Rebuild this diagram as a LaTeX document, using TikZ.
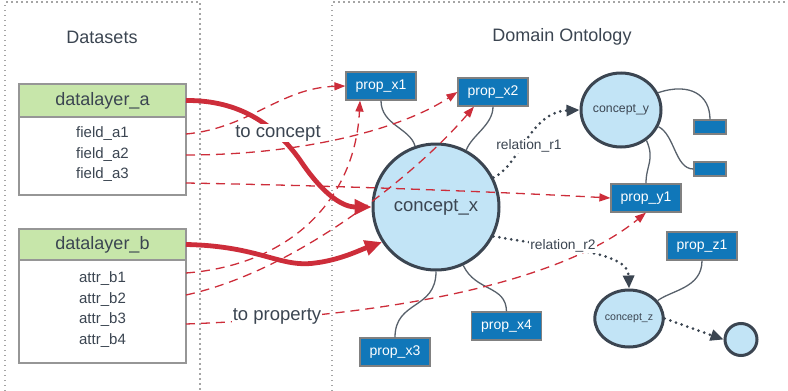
\documentclass[tikz,border=0pt]{standalone}
\usepackage{fontspec}
\setmainfont{Liberation Sans}
\usetikzlibrary{arrows.meta}
\usetikzlibrary{positioning}
\usetikzlibrary{shapes.geometric}
\usetikzlibrary{calc}
\definecolor{inkGray}{RGB}{59,69,81}
\definecolor{linkRed}{RGB}{205,45,58}
\definecolor{propBlue}{RGB}{16,119,185}
\definecolor{conceptBlue}{RGB}{194,228,246}
\definecolor{headGreen}{RGB}{199,230,170}
\definecolor{frameGray}{RGB}{165,165,165}
\definecolor{tableGray}{RGB}{150,150,150}

\begin{document}
\begin{tikzpicture}[x=1pt,y=-1pt,
        every node/.style = {text=inkGray},
        frameLine/.style = {draw=frameGray,line width=1.2pt,dash pattern=on 1.5pt off 3.5pt},
        headNode/.style = {draw=tableGray,line width=2.5pt,fill=headGreen,minimum width=167pt,inner sep=0pt,outer sep=0pt,font=\fontsize{18}{20}\selectfont},
        bodyNode/.style = {draw=tableGray,line width=2.5pt,fill=white,minimum width=167pt,inner sep=0pt,outer sep=0pt},
        fieldNode/.style = {inner sep=0pt,font=\fontsize{15}{18}\selectfont},
        propNode/.style = {draw=gray,line width=1.2pt,fill=propBlue,text=white,minimum width=70pt,minimum height=28pt,inner sep=0pt,font=\fontsize{14}{16}\selectfont},
        stubNode/.style = {draw=gray,line width=1.2pt,fill=propBlue,minimum width=32pt,minimum height=14pt,inner sep=0pt},
        conceptNode/.style = {shape=ellipse,draw=inkGray,line width=3pt,fill=conceptBlue,inner sep=0pt},
        toConcept/.style = {draw=linkRed,line width=4.8pt,-{Triangle[length=17pt,width=15pt]}}, % thick mapping arrows
        toProperty/.style = {draw=linkRed,line width=1.3pt,dash pattern=on 9pt off 6pt,-{Triangle[length=11pt,width=8pt]}},
        relationLink/.style = {draw=inkGray,line width=3pt,line cap=round,dash pattern=on 0pt off 6pt,-{Triangle[length=13pt,width=11pt]}},
        propLink/.style = {draw=inkGray!85,line width=1.3pt},
        edgeLabel/.style = {fill=white,inner sep=1pt}
        ]
        \useasboundingbox (0,0) rectangle (788,391);
        \draw[frameLine] (5,391) -- (5,2) -- (200,2) -- (200,391);
        \draw[frameLine] (332,391) -- (332,2) -- (788,2);
        \node[font=\fontsize{18}{20}\selectfont] (titleData) at (102,37) {Datasets};
        \node[font=\fontsize{18}{20}\selectfont] (titleOnto) at (562,37) {Domain Ontology};

        % datasets
        \node[headNode,minimum height=33pt] (headA) at (102.5,100.5) {datalayer\_a};
        \node[bodyNode,minimum height=78pt,below=0pt of headA] (bodyA) {};
        \node[fieldNode] (fieldA1) at (102.5,134) {field\_a1};
        \node[fieldNode] (fieldA2) at (102.5,155) {field\_a2};
        \node[fieldNode] (fieldA3) at (102.5,175) {field\_a3};
        \node[headNode,minimum height=31pt] (headB) at (102.5,244.5) {datalayer\_b};
        \node[bodyNode,minimum height=103pt,below=0pt of headB] (bodyB) {};
        \node[fieldNode] (attrB1) at (102.5,279) {attr\_b1};
        \node[fieldNode] (attrB2) at (102.5,300) {attr\_b2};
        \node[fieldNode] (attrB3) at (102.5,320) {attr\_b3};
        \node[fieldNode] (attrB4) at (102.5,341) {attr\_b4};

        % ontology
        \node[conceptNode,minimum width=126pt,minimum height=126pt,font=\fontsize{18.5}{20}\selectfont] (conceptX) at (436,207) {concept\_x};
        \node[conceptNode,minimum width=80pt,minimum height=74pt,font=\fontsize{12.3}{14}\selectfont] (conceptY) at (621,110) {concept\_y};
        \node[conceptNode,minimum width=64pt,minimum height=57pt,font=\fontsize{10.6}{12}\selectfont] (conceptZ) at (629,318.5) {concept\_z};
        \node[conceptNode,minimum width=32pt,minimum height=32pt] (endC) at (741,339.5) {};
        \node[propNode] (propX1) at (381,86) {prop\_x1};
        \node[propNode] (propX2) at (493,92) {prop\_x2};
        \node[propNode] (propX3) at (395,352) {prop\_x3};
        \node[propNode] (propX4) at (506.5,326) {prop\_x4};
        \node[propNode] (propY1) at (646,198) {prop\_y1};
        \node[propNode] (propZ1) at (702,246) {prop\_z1};
        \node[stubNode] (stubY1) at (710,127) {};
        \node[stubNode] (stubY2) at (710,169) {};

        \draw[propLink] (propX1.south) .. controls (381,125) and (410,128) .. (conceptX.109);
        \draw[propLink] (propX2.south) .. controls (493,125) and (472,135) .. (conceptX.62);
        \draw[propLink] (conceptX.south) .. controls (436,310) and (395,300) .. (propX3.north);
        \draw[propLink] (conceptX.295) .. controls (476,292) and (506,285) .. (propX4.north);
        \draw[propLink] (conceptY.25) .. controls (690,82) and (710,95) .. (stubY1.north);
        \draw[propLink] (conceptY.-24) .. controls (675,135) and (675,169) .. (stubY2.west);
        \draw[propLink] (conceptY.-50) .. controls (655,160) and (646,165) .. (propY1.north);
        \draw[propLink] (propZ1.south) .. controls (702,288) and (672,290) .. (conceptZ.32);

        \draw[relationLink] (conceptX.27) .. controls (520,165) and (530,112) .. (conceptY.west);
        \draw[relationLink] (conceptX.333) .. controls (570,250) and (628,252) .. (conceptZ.north);
        \draw[relationLink] (conceptZ.east) -- (endC.west);

        % mappings
        \draw[toConcept] (headA.east) .. controls (240,100) and (275,125) .. (300,160) .. controls (320,190) and (340,207) .. (conceptX.west);
        \draw[toConcept] (headB.east) .. controls (260,246) and (280,268) .. (315,263) .. controls (340,260) and (360,250) .. (conceptX.213);
        \draw[toProperty] (fieldA1 -| bodyA.east) .. controls (250,128) and (280,88) .. (propX1.west);
        \draw[toProperty] (fieldA2 -| bodyA.east) .. controls (300,155) and (400,130) .. (propX2.west);
        \draw[toProperty] ($(fieldA3 -| bodyA.east)+(0,8)$) .. controls (350,186) and (500,192) .. (propY1.west);
        \draw[toProperty] ($(attrB1 -| bodyB.east)+(0,-6)$) .. controls (290,265) and (355,200) .. ($(propX1.south)+(-21,0)$);
        \draw[toProperty] ($(attrB2 -| bodyB.east)+(0,-5)$) .. controls (300,270) and (420,170) .. ($(propX2.south)+(-19,0)$);
        \draw[toProperty] ($(attrB3 -| bodyB.east)+(0,4)$) .. controls (420,315) and (570,275) .. (propY1.south);

        \node[edgeLabel,font=\fontsize{18.5}{20}\selectfont] (labConcept) at (278,133) {to concept};
        \node[edgeLabel,font=\fontsize{18.5}{20}\selectfont] (labProperty) at (277,316) {to property};
        \node[edgeLabel,font=\fontsize{13.8}{16}\selectfont] (labR1) at (529,146) {relation\_r1};
        \node[edgeLabel,font=\fontsize{13.8}{16}\selectfont] (labR2) at (563,246) {relation\_r2};
    \end{tikzpicture}
\end{document}
